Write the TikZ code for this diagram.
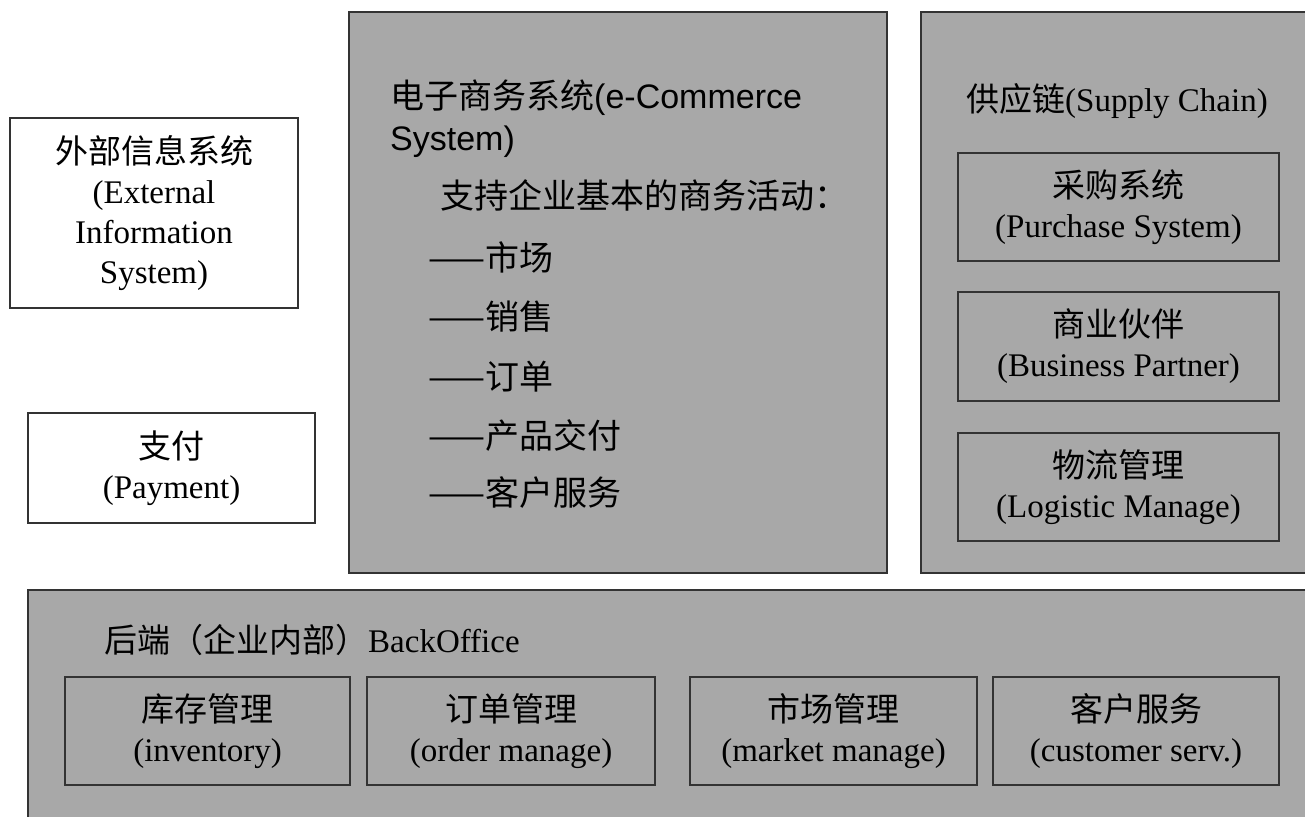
\documentclass[tikz,border=0pt]{standalone}
\usepackage{fontspec}
\setmainfont{Liberation Serif}
\setsansfont{Liberation Sans}
\newfontfamily\cjk{Noto Sans CJK SC}
\begin{document}
\begin{tikzpicture}[x=1pt,y=-1pt,
  box/.style={draw=black!80, line width=2.6pt, fill=boxgray, align=center, inner sep=0pt,
    font=\fontsize{33}{40}\selectfont},
  plain/.style={draw=black!80, line width=2.6pt, fill=white, align=center, inner sep=0pt,
    font=\fontsize{33}{40}\selectfont},
  big/.style={draw=black!80, line width=2.6pt, fill=boxgray, inner sep=0pt},
  lbl/.style={anchor=west, inner sep=0pt, align=left},
  ectext/.style={lbl, font=\fontsize{34}{40}\selectfont\cjk}]
\definecolor{boxgray}{RGB}{168,168,168}
\useasboundingbox (0,0) rectangle (1305,816);
\fill[white] (0,0) rectangle (1305,816);
% outer containers
\node[big, minimum width=538pt, minimum height=561pt] (ec) at (618,292.5) {};
\node[big, minimum width=391pt, minimum height=561pt] (sc) at (1116.5,292.5) {};
\node[big, minimum width=1284pt, minimum height=232pt] (bo) at (670,706) {};
% left boxes
\node[plain, minimum width=288pt, minimum height=190pt] (ext) at (154,213)
  {{\cjk 外部信息系统}\\(External\\Information\\System)};
\node[plain, minimum width=287pt, minimum height=110pt] (pay) at (171.5,468)
  {{\cjk 支付}\\(Payment)};
% e-commerce text
\node[lbl, anchor=north west, font=\fontsize{34}{42}\selectfont\sffamily] (ect) at (390,80)
  {{\cjk 电子商务系统}(e-Commerce\\System)};
\node[ectext] (sup) at (440,195) {支持企业基本的商务活动：};
\node[ectext] (l1) at (428,257) {——市场};
\node[ectext] (l2) at (428,317) {——销售};
\node[ectext] (l3) at (428,377) {——订单};
\node[ectext] (l4) at (428,436) {——产品交付};
\node[ectext] (l5) at (428,493) {——客户服务};
% supply chain
\node[lbl, font=\fontsize{33}{40}\selectfont] (sct) at (966,101) {{\cjk 供应链}(Supply Chain)};
\node[box, minimum width=321pt, minimum height=108pt] (pur) at (1118.5,207)
  {{\cjk 采购系统}\\(Purchase System)};
\node[box, minimum width=321pt, minimum height=109pt] (bus) at (1118.5,346.5)
  {{\cjk 商业伙伴}\\(Business Partner)};
\node[box, minimum width=321pt, minimum height=108pt] (log) at (1118.5,487)
  {{\cjk 物流管理}\\(Logistic Manage)};
% back office
\node[lbl, font=\fontsize{33}{40}\selectfont] (bot) at (104,640) {{\cjk 后端（企业内部）}BackOffice};
\node[box, minimum width=285pt, minimum height=108pt] (inv) at (207.5,731)
  {{\cjk 库存管理}\\(inventory)};
\node[box, minimum width=288pt, minimum height=108pt] (ord) at (511,731)
  {{\cjk 订单管理}\\(order manage)};
\node[box, minimum width=287pt, minimum height=108pt] (mkt) at (833.5,731)
  {{\cjk 市场管理}\\(market manage)};
\node[box, minimum width=286pt, minimum height=108pt] (cus) at (1136,731)
  {{\cjk 客户服务}\\(customer serv.)};
\end{tikzpicture}
\end{document}
